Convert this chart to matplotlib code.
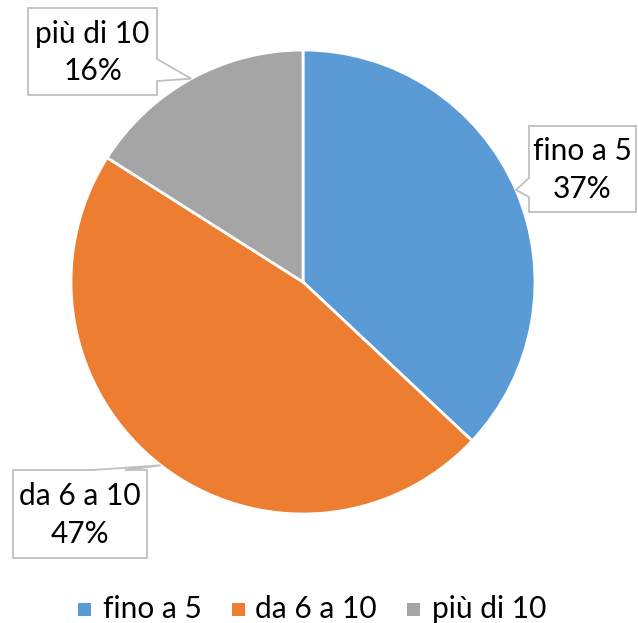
import numpy as np
import matplotlib
matplotlib.use("Agg")
import matplotlib.pyplot as plt
from matplotlib.patches import Polygon, Rectangle

categories = ["fino a 5", "da 6 a 10", "più di 10"]
values = [37, 47, 16]
colors = ["#5B9BD5", "#ED7D31", "#A5A5A5"]

plt.rcParams['font.family'] = ['Lato', 'DejaVu Sans']

W, H = 638, 623
fig = plt.figure(figsize=(W / 100, H / 100), dpi=100)
ax = fig.add_axes([0, 0, 1, 1])
ax.set_xlim(0, W)
ax.set_ylim(0, H)
ax.set_aspect('equal')
ax.axis('off')

cx, cy, r = 303, H - 282, 232
wedges, _ = ax.pie(values, colors=colors, startangle=90, counterclock=False,
                   center=(cx, cy), radius=r,
                   wedgeprops=dict(edgecolor='white', linewidth=2))
ax.set_xlim(0, W)
ax.set_ylim(0, H)

# callout boxes in pixel coords: (left, top, right, bottom), side of tail, tail base
boxes = [
    (529, 126, 636, 212, 'left', (178, 197)),
    (13, 470, 147, 558, 'top', (93, 125)),
    (28, 8, 157, 95, 'right', (59, 81)),
]

def py(y):
    return H - y

for w, lab, v, (l, t, rt, b, side, base) in zip(wedges, categories, values, boxes):
    mid = np.deg2rad((w.theta1 + w.theta2) / 2)
    tip = (cx + r * np.cos(mid), cy + r * np.sin(mid))
    if side == 'left':
        pts = [(l, py(t)), (rt, py(t)), (rt, py(b)), (l, py(b)),
               (l, py(base[1])), tip, (l, py(base[0]))]
    elif side == 'right':
        pts = [(l, py(t)), (rt, py(t)), (rt, py(base[0])), tip,
               (rt, py(base[1])), (rt, py(b)), (l, py(b))]
    else:
        pts = [(l, py(t)), (base[0], py(t)), tip, (base[1], py(t)),
               (rt, py(t)), (rt, py(b)), (l, py(b))]
    ax.add_patch(Polygon(pts, closed=True, facecolor='white',
                         edgecolor='#BFBFBF', linewidth=1.3, zorder=3))
    ax.text((l + rt) / 2, py((t + b) / 2 + 1), f"{lab}\n{v}%", ha='center',
            va='center', fontsize=21.5, color='#000000', linespacing=1.4,
            zorder=4)

# legend
leg_y = py(609)
sq = 13
items = [(78, 103), (232, 255), (407, 432)]
for (sx, tx), lab, c in zip(items, categories, colors):
    ax.add_patch(Rectangle((sx, leg_y - sq / 2), sq, sq, facecolor=c,
                           edgecolor='none'))
    ax.text(tx, leg_y, lab, ha='left', va='center', fontsize=21.5,
            color='#000000')

fig.savefig("out.png", dpi=100)
